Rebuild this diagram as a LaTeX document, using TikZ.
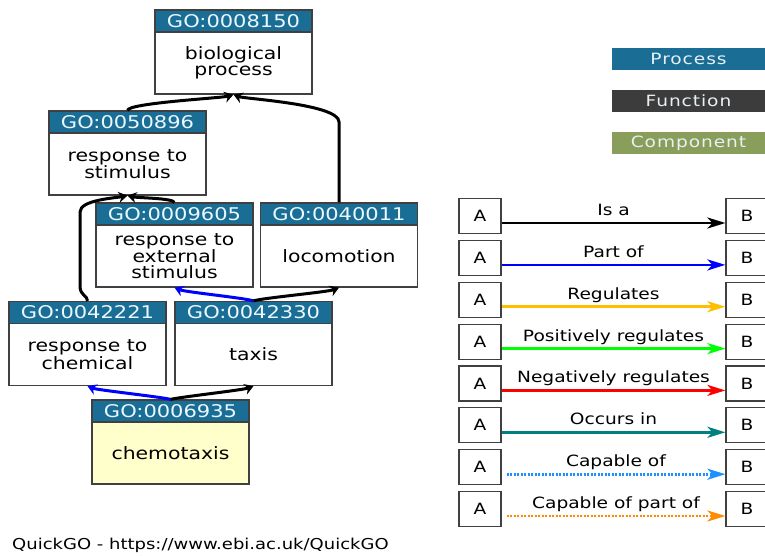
\documentclass[tikz,border=0pt]{standalone}
\usepackage{fontspec}
\setmainfont{DejaVu Sans}[FakeStretch=1.2]
\usepackage{tikz}
\usetikzlibrary{shapes,arrows.meta,positioning}
\definecolor{goblue}{RGB}{26,110,150}
\definecolor{fungrey}{RGB}{60,60,60}
\definecolor{compgreen}{RGB}{138,158,91}
\definecolor{chemyellow}{RGB}{255,255,204}
\definecolor{regyellow}{RGB}{255,190,0}
\definecolor{occteal}{RGB}{0,128,128}
\definecolor{capblue}{RGB}{30,144,255}
\definecolor{caporange}{RGB}{255,140,0}

\begin{document}
\begin{tikzpicture}[x=1pt, y=-1pt, node distance=42pt]
        \tikzstyle{head} = [rectangle, draw=black!75, line width=1.2pt, fill=goblue, text=white!92!cyan, minimum width=157pt, minimum height=22pt, inner sep=0pt, font=\fontsize{17.5}{16}\selectfont]
        \tikzstyle{term} = [rectangle, draw=black!75, line width=1.2pt, fill=white, minimum width=157pt, minimum height=62pt, inner sep=0pt, align=center, font=\fontsize{17}{16}\selectfont]
        \tikzstyle{key} = [rectangle, fill=#1, text=white!90!goblue, minimum width=153pt, minimum height=22pt, inner sep=0pt, font=\fontsize{15.5}{16}\selectfont\addfontfeatures{LetterSpace=6}]
        \tikzstyle{ab} = [rectangle, draw=black!75, line width=1.2pt, minimum width=42pt, minimum height=35pt, inner sep=0pt, font=\fontsize{15.5}{16}\selectfont]
        \tikzstyle{line} = [draw, line width=3pt, -{Stealth[length=9pt,width=11pt,inset=3pt]}]
        \tikzstyle{legline} = [draw, line width=2.8pt, -{Stealth[length=18pt,width=11pt,inset=5pt]}]
        \tikzstyle{leglabel} = [midway, anchor=base, yshift=7.5pt, inner sep=0pt, font=\fontsize{15.5}{16}\selectfont]
        \useasboundingbox (0,0) rectangle (765,556);

    % GO terms
    \node [head] (go 8150) at (233.5,21) {GO:0008150};
    \node [term, below of=go 8150] (biological process) {biological\\process};
    \node [head] (go 50896) at (127.5,122) {GO:0050896};
    \node [term, below of=go 50896] (response to stimulus) {response to\\stimulus};
    \node [head] (go 9605) at (174.5,214) {GO:0009605};
    \node [term, below of=go 9605] (response to external stimulus) {response to\\external\\stimulus};
    \node [head] (go 40011) at (339,214) {GO:0040011};
    \node [term, below of=go 40011] (locomotion) {locomotion};
    \node [head] (go 42221) at (87.5,312.5) {GO:0042221};
    \node [term, below of=go 42221] (response to chemical) {response to\\chemical};
    \node [head] (go 42330) at (253.5,312.5) {GO:0042330};
    \node [term, below of=go 42330] (taxis) {taxis};
    \node [head] (go 6935) at (170.5,411) {GO:0006935};
    \node [term, fill=chemyellow, below of=go 6935] (chemotaxis) {chemotaxis};

    \path [line] (go 50896.north) .. controls (128,103) and (222,98) .. (biological process.south);
    \path [line] (go 40011.north) -- (339,122) .. controls (339,104) and (245,99) .. (biological process.south);
    \path [line] (go 9605.north) .. controls (172,198) and (138,198) .. (response to stimulus.south);
    \path [line] (go 42221.north) .. controls (87.5,295) and (80,296) .. (80,286) -- (80,212) .. controls (80,200) and (115,198) .. (response to stimulus.south);
    \path [line, draw=blue] (go 42330.north) .. controls (245,298) and (185,292) .. (response to external stimulus.south);
    \path [line] (go 42330.north) .. controls (262,298) and (328,292) .. (locomotion.south);
    \path [line, draw=blue] (go 6935.north) .. controls (162,397) and (97,390) .. (response to chemical.south);
    \path [line] (go 6935.north) .. controls (180,397) and (243,390) .. (taxis.south);

    % ontology key
    \node [key=goblue] (process) at (688.5,59) {Process};
    \node [key=fungrey] (function) [below of=process] {Function};
    \node [key=compgreen] (component) [below of=function] {Component};

    % relation key
    \node [ab] (a 1) at (480,216) {A};
    \node [ab] (b 1) at (747,216) {B};
    \path [legline] ([yshift=-7pt]a 1.east) -- node [leglabel] {Is a} ([yshift=-7pt]b 1.west);
    \node [ab] (a 2) at (480,257.9) {A};
    \node [ab] (b 2) at (747,257.9) {B};
    \path [legline, draw=blue] ([yshift=-7pt]a 2.east) -- node [leglabel] {Part of} ([yshift=-7pt]b 2.west);
    \node [ab] (a 3) at (480,299.7) {A};
    \node [ab] (b 3) at (747,299.7) {B};
    \path [legline, draw=regyellow] ([yshift=-7pt]a 3.east) -- node [leglabel] {Regulates} ([yshift=-7pt]b 3.west);
    \node [ab] (a 4) at (480,341.6) {A};
    \node [ab] (b 4) at (747,341.6) {B};
    \path [legline, draw=green] ([yshift=-7pt]a 4.east) -- node [leglabel] {Positively regulates} ([yshift=-7pt]b 4.west);
    \node [ab] (a 5) at (480,383.4) {A};
    \node [ab] (b 5) at (747,383.4) {B};
    \path [legline, draw=red] ([yshift=-7pt]a 5.east) -- node [leglabel] {Negatively regulates} ([yshift=-7pt]b 5.west);
    \node [ab] (a 6) at (480,425.3) {A};
    \node [ab] (b 6) at (747,425.3) {B};
    \path [legline, draw=occteal] ([yshift=-7pt]a 6.east) -- node [leglabel] {Occurs in} ([yshift=-7pt]b 6.west);
    \node [ab] (a 7) at (480,467.2) {A};
    \node [ab] (b 7) at (747,467.2) {B};
    \path [legline, draw=capblue, dash pattern=on 2pt off 1.5pt] ([xshift=5pt,yshift=-7pt]a 7.east) -- node [leglabel] {Capable of} ([yshift=-7pt]b 7.west);
    \node [ab] (a 8) at (480,509) {A};
    \node [ab] (b 8) at (747,509) {B};
    \path [legline, draw=caporange, dash pattern=on 2pt off 1.5pt] ([xshift=5pt,yshift=-7pt]a 8.east) -- node [leglabel] {Capable of part of} ([yshift=-7pt]b 8.west);

    \node [anchor=base west, inner sep=0pt, font=\fontsize{15}{16}\selectfont] (footer) at (12,549) {QuickGO - https://www.ebi.ac.uk/QuickGO};
\end{tikzpicture}
\end{document}
